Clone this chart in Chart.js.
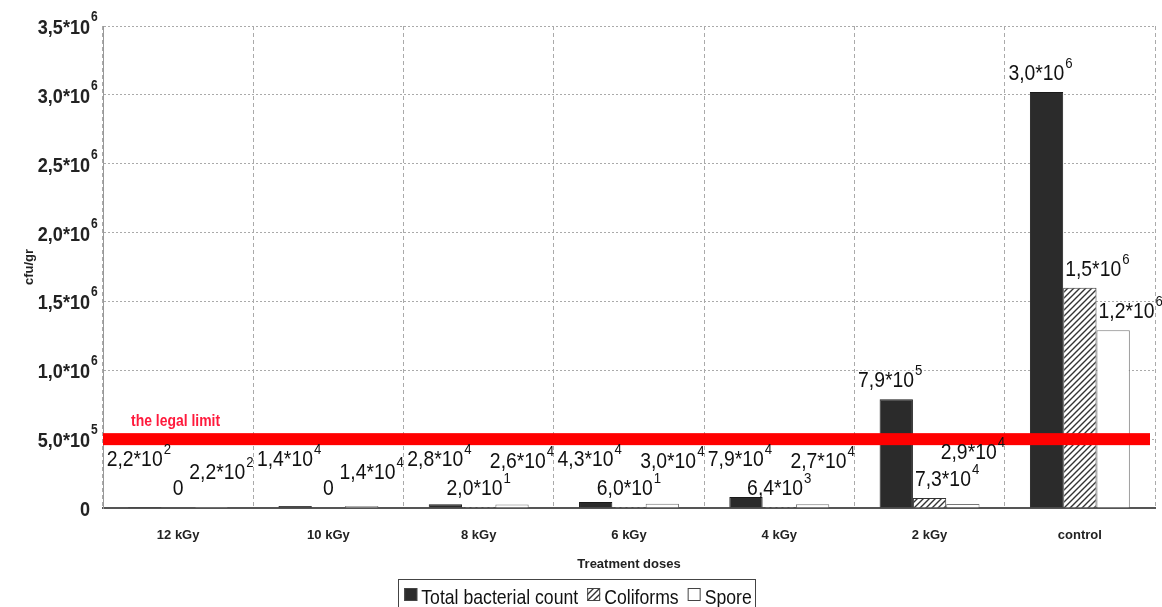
<!DOCTYPE html>
<html>
<head>
<meta charset="utf-8">
<script src="https://cdn.jsdelivr.net/npm/chart.js@4.4.1/dist/chart.umd.min.js"></script>
<style>
  html, body { margin: 0; padding: 0; background: #fff; }
  #wrap { width: 1162px; height: 607px; position: relative; }
</style>
</head>
<body>
<div id="wrap"><canvas id="doseChart"></canvas></div>
<script>
const doses = ['12 kGy', '10 kGy', '8 kGy', '6 kGy', '4 kGy', '2 kGy', 'control'];

// bar heights
const totalCount = [220, 14000, 28000, 43000, 79000, 790000, 3020000];
const coliforms  = [0, 0, 20, 60, 6400, 73000, 1600000];
const spores     = [220, 14000, 26000, 30000, 27000, 29000, 1290000];

// printed value labels ("base^exponent")
const totalText    = ['2,2*10^2', '1,4*10^4', '2,8*10^4', '4,3*10^4', '7,9*10^4', '7,9*10^5', '3,0*10^6'];
const coliformText = ['0', '0', '2,0*10^1', '6,0*10^1', '6,4*10^3', '7,3*10^4', '1,5*10^6'];
const sporeText    = ['2,2*10^2', '1,4*10^4', '2,6*10^4', '3,0*10^4', '2,7*10^4', '2,9*10^4', '1,2*10^6'];

const yTickText = ['0', '5,0*10^5', '1,0*10^6', '1,5*10^6', '2,0*10^6', '2,5*10^6', '3,0*10^6', '3,5*10^6'];
const legalLimit = 500000;

const SANS = '"Liberation Sans", Arial, sans-serif';

function hatch() {
    const c = document.createElement('canvas');
    c.width = 6; c.height = 6;
    const g = c.getContext('2d');
    g.fillStyle = '#fff';
    g.fillRect(0, 0, 6, 6);
    g.strokeStyle = '#333';
    g.lineWidth = 1.4;
    g.beginPath();
    g.moveTo(-1, 7); g.lineTo(7, -1);
    g.moveTo(-4, 4); g.lineTo(4, -4);
    g.moveTo(2, 10); g.lineTo(10, 2);
    g.stroke();
    return g.createPattern(c, 'repeat');
}
const hatchFill = hatch();

// narrow text: the original uses a condensed face, so squeeze Liberation Sans
function textWidth(ctx, s, font, sx) {
    ctx.font = font;
    return ctx.measureText(s).width * sx;
}
function narrowText(ctx, s, x, y, font, sx) {
    ctx.save();
    ctx.font = font;
    ctx.textAlign = 'left';
    ctx.textBaseline = 'alphabetic';
    ctx.translate(x, y);
    ctx.scale(sx, 1);
    ctx.fillText(s, 0, 0);
    ctx.restore();
}
// "2,2*10^2" -> base text plus raised exponent, starting at x
function powWidth(ctx, str, st) {
    const p = str.split('^');
    let w = textWidth(ctx, p[0], st.main, st.sx);
    if (p[1]) w += 1 + textWidth(ctx, p[1], st.exp, st.sx);
    return w;
}
function powText(ctx, str, x, y, st) {
    const p = str.split('^');
    narrowText(ctx, p[0], x, y, st.main, st.sx);
    if (p[1]) {
        const w = textWidth(ctx, p[0], st.main, st.sx);
        narrowText(ctx, p[1], x + w + 1, y - st.rise, st.exp, st.sx);
    }
}

const tickStyle  = { main: 'bold 21px ' + SANS, exp: 'bold 14px ' + SANS, sx: 0.86, rise: 13 };
const valueStyle = { main: '22px ' + SANS, exp: '15px ' + SANS, sx: 0.88, rise: 12 };

// y tick labels with exponents
const yLabels = {
    id: 'yLabels',
    afterDraw(chart) {
        const ctx = chart.ctx, y = chart.scales.y;
        ctx.save();
        ctx.fillStyle = '#222';
        y.ticks.forEach((t, i) => {
            const str = yTickText[i];
            const p = str.split('^');
            const w0 = textWidth(ctx, p[0], tickStyle.main, tickStyle.sx);
            powText(ctx, str, y.right - 13 - w0, y.getPixelForTick(i) + 8, tickStyle);
        });
        ctx.restore();
    }
};

// red legal limit band
const limitLine = {
    id: 'limitLine',
    afterDatasetsDraw(chart) {
        const ctx = chart.ctx, a = chart.chartArea;
        const yy = chart.scales.y.getPixelForValue(legalLimit);
        ctx.save();
        ctx.fillStyle = '#ff0000';
        ctx.fillRect(a.left, yy - 6, a.right - a.left - 5, 12);
        ctx.fillStyle = '#ff1a3c';
        narrowText(ctx, 'the legal limit', a.left + 28, yy - 13, 'bold 17px ' + SANS, 0.82);
        ctx.restore();
    }
};

// value labels above the bars, nudged so they do not collide
const valueLabels = {
    id: 'valueLabels',
    afterDatasetsDraw(chart) {
        const ctx = chart.ctx;
        const axisY = chart.scales.y.getPixelForValue(0);
        const texts = [totalText, coliformText, sporeText];
        const lift = [42, 13, 29];
        const shift = [-6, 0, 10];
        ctx.save();
        ctx.fillStyle = '#111';
        doses.forEach((d, i) => {
            const placed = [];
            texts.forEach((tx, di) => {
                const bar = chart.getDatasetMeta(di).data[i];
                const str = tx[i];
                let base = Math.min(bar.y - 12, axisY - lift[di]);
                const w = powWidth(ctx, str, valueStyle);
                let left = bar.x + shift[di] - w / 2;
                if (di > 0) {
                    const prev = chart.getDatasetMeta(di - 1).data[i];
                    if (prev.y < base) left = Math.max(left, prev.x + prev.width / 2 + 2);
                }
                placed.forEach(o => {
                    const hit = left < o.left + o.w && left + w > o.left && Math.abs(base - o.base) < 20;
                    if (hit) base = o.base - 27;
                });
                placed.push({ left, w, base });
                powText(ctx, str, left, base, valueStyle);
            });
        });
        ctx.restore();
    }
};

// boxed legend under the axis title
const boxLegend = {
    id: 'boxLegend',
    afterDraw(chart) {
        const ctx = chart.ctx;
        const items = chart.data.datasets;
        const font = '21px ' + SANS, sx = 0.84;
        const sq = 13, gapIn = 4, gapOut = 9;
        ctx.save();
        let total = 0;
        items.forEach((d, i) => {
            total += sq + gapIn + textWidth(ctx, d.label, font, sx) + (i < items.length - 1 ? gapOut : 0);
        });
        let x = chart.width / 2 - 3 - total / 2;
        const top = 579;
        ctx.strokeStyle = '#444';
        ctx.lineWidth = 1;
        ctx.strokeRect(Math.round(x - 6) + 0.5, top + 0.5, Math.round(total + 10), 34);
        items.forEach((d) => {
            ctx.fillStyle = d.backgroundColor;
            ctx.fillRect(x, 588, sq, sq);
            ctx.strokeStyle = '#444';
            ctx.strokeRect(x + 0.5, 588.5, sq - 1, sq - 1);
            x += sq + gapIn;
            ctx.fillStyle = '#111';
            narrowText(ctx, d.label, x, 604, font, sx);
            x += textWidth(ctx, d.label, font, sx) + gapOut;
        });
        ctx.restore();
    }
};

new Chart(document.getElementById('doseChart'), {
    type: 'bar',
    data: {
        labels: doses,
        datasets: [
            { label: 'Total bacterial count', data: totalCount, backgroundColor: '#2b2b2b', borderColor: '#1a1a1a', borderWidth: 1 },
            { label: 'Coliforms', data: coliforms, backgroundColor: hatchFill, borderColor: '#333', borderWidth: 1 },
            { label: 'Spore', data: spores, backgroundColor: '#ffffff', borderColor: '#777', borderWidth: 1 }
        ]
    },
    options: {
        responsive: true,
        maintainAspectRatio: false,
        animation: false,
        layout: { padding: { left: 0, top: 26, right: 7, bottom: 30 } },
        categoryPercentage: 0.665,
        barPercentage: 1,
        plugins: {
            legend: { display: false },
            tooltip: { enabled: false }
        },
        scales: {
            x: {
                offset: true,
                grid: { offset: true, color: '#aaa', drawTicks: false },
                border: { color: '#555', width: 2, dash: [4, 3] },
                ticks: { color: '#222', padding: 20, font: { family: SANS, size: 13, weight: 'bold' } },
                title: {
                    display: true,
                    text: 'Treatment doses',
                    color: '#222',
                    font: { family: SANS, size: 13, weight: 'bold' },
                    padding: { top: 14, bottom: 5 }
                },
                afterFit: s => { s.height = 69; }
            },
            y: {
                min: 0,
                max: 3500000,
                ticks: {
                    stepSize: 500000,
                    padding: 13,
                    callback: () => ''
                },
                grid: { color: '#aaa', drawTicks: false },
                border: { color: '#999', width: 1, dash: [2, 2] },
                title: {
                    display: true,
                    text: 'cfu/gr',
                    color: '#222',
                    font: { family: SANS, size: 13, weight: 'bold' },
                    padding: { top: 22, bottom: 0 }
                },
                afterFit: s => { s.width = 103; }
            }
        }
    },
    plugins: [limitLine, valueLabels, yLabels, boxLegend]
});
</script>
</body>
</html>
